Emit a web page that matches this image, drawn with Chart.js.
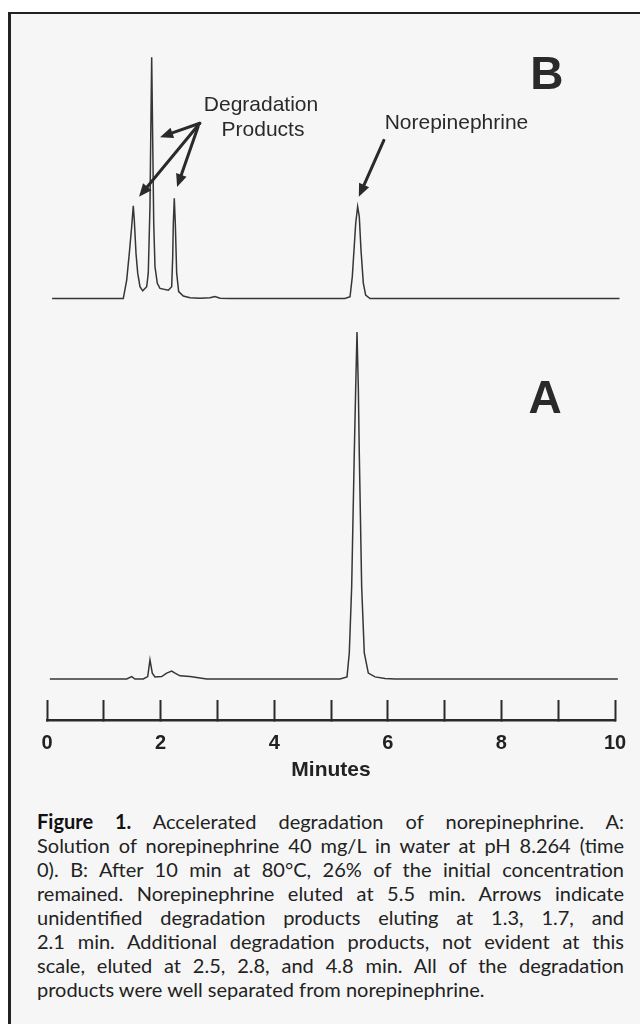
<!DOCTYPE html>
<html>
<head>
<meta charset="utf-8">
<script src="https://cdn.jsdelivr.net/npm/chart.js@4.4.1/dist/chart.umd.min.js"></script>
<style>
  html, body { margin: 0; padding: 0; width: 640px; height: 1024px; overflow: hidden; background: #ffffff; }
  #frame { position: absolute; left: 8px; top: 12px; width: 700px; height: 1100px;
           border-left: 3px solid #222; border-top: 2px solid #222; background: #f6f6f6; }
  #wrap { position: absolute; left: 0; top: 0; width: 640px; height: 790px; }
  #caption { position: absolute; left: 37px; top: 809px; width: 587px;
             font-family: Lato, "Noto Sans", sans-serif; font-size: 20px; line-height: 24px; color: #222; }
  #caption div { white-space: nowrap; text-align: justify; text-align-last: justify; }
  #caption div.last { text-align-last: left; }
  #caption b { color: #111; }
</style>
</head>
<body>
<div id="frame"></div>
<div id="wrap"><canvas id="c"></canvas></div>
<div id="caption">
  <div><b>Figure 1.</b> Accelerated degradation of norepinephrine. A:</div>
  <div>Solution of norepinephrine 40 mg/L in water at pH 8.264 (time</div>
  <div>0). B: After 10 min at 80°C, 26% of the initial concentration</div>
  <div>remained. Norepinephrine eluted at 5.5 min. Arrows indicate</div>
  <div>unidentified degradation products eluting at 1.3, 1.7, and</div>
  <div>2.1 min. Additional degradation products, not evident at this</div>
  <div>scale, eluted at 2.5, 2.8, and 4.8 min. All of the degradation</div>
  <div class="last">products were well separated from norepinephrine.</div>
</div>
<script>
// ---- Data (minutes, detector response; A main peak = 100) ----
const timeA = [0.05, 0.933, 1.403, 1.491, 1.549, 1.695, 1.773, 1.813, 1.854, 1.901, 2.019, 2.107, 2.195, 2.254, 2.342, 2.518, 2.694, 2.812,
               5.158, 5.282, 5.322, 5.364, 5.410, 5.435, 5.458, 5.481, 5.498, 5.540, 5.586, 5.657, 5.775, 5.951, 6.127, 10.05];
const respA = [0, 0, 0, 0.7, 0, 0, 0.7, 5.5, 1.7, 0.6, 0.7, 1.7, 2.3, 1.7, 0.9, 0.7, 0.3, 0,
               0, 0.6, 7.5, 26.5, 65.1, 84.1, 100, 84.1, 65.1, 26.5, 7.5, 1.7, 0.6, 0.15, 0, 0];

const timeB = [0.09, 0.933, 1.343, 1.403, 1.449, 1.491, 1.519, 1.537, 1.567, 1.597, 1.637, 1.685, 1.755, 1.783, 1.813, 1.826, 1.843,
               1.861, 1.879, 1.901, 1.942, 1.989, 2.136, 2.195, 2.213, 2.224, 2.241, 2.259, 2.283, 2.318, 2.400, 2.518, 2.694,
               2.870, 2.958, 3.046, 3.222, 5.246, 5.335, 5.375, 5.405, 5.435, 5.469, 5.498, 5.528, 5.569, 5.610, 5.687, 10.08, 10.08];
const respB = [0, 0, 0, 5.3, 13.0, 20.7, 26.7, 22.6, 13.0, 7.3, 3.4, 2.2, 3.4, 7.3, 26.5, 45.7, 69.5,
               45.7, 21.7, 9.2, 4.4, 2.9, 2.4, 3.4, 12.0, 21.7, 28.9, 21.7, 7.3, 2.0, 0.7, 0.2, 0.1,
               0.2, 0.6, 0.1, 0, 0, 0.5, 6.3, 14.0, 21.7, 26.5, 23.6, 14.0, 4.4, 1.0, 0, 0, 1.7];

const tickLabels = ['0', '', '2', '', '4', '', '6', '', '8', '', '10'];
const axisTitle = 'Minutes';
const panelNames = ['B', 'A'];
const calloutTexts = ['Degradation', 'Products', 'Norepinephrine'];

// ---- Annotation anchors (data units) ----
const panelPos = [{t: 8.80, r: 64.1, axis: 'yB'}, {t: 8.77, r: 80.4, axis: 'yA'}];
const calloutPos = [{t: 3.768, r: 55.8}, {t: 3.803, r: 48.6}, {t: 7.209, r: 50.5}];
const arrowList = [
  {from: {t: 2.69, r: 50.5}, to: {t: 1.99, r: 46.5}},
  {from: {t: 2.69, r: 50.5}, to: {t: 1.62, r: 29.3}},
  {from: {t: 2.66, r: 49.5}, to: {t: 2.29, r: 32.1}},
  {from: {t: 5.93, r: 45.6}, to: {t: 5.49, r: 29.3}}
];

const toPoints = (ts, rs) => ts.map((t, i) => ({x: t, y: rs[i]}));
const INK = '#2a2a2a';
const FONT = '"Liberation Sans", Arial, sans-serif';

function drawArrow(ctx, x1, y1, x2, y2) {
  const ang = Math.atan2(y2 - y1, x2 - x1);
  const len = 13, hw = 5.5;
  const bx = x2 - len * Math.cos(ang), by = y2 - len * Math.sin(ang);
  ctx.beginPath();
  ctx.moveTo(x1, y1);
  ctx.lineTo(bx, by);
  ctx.stroke();
  ctx.beginPath();
  ctx.moveTo(x2, y2);
  ctx.lineTo(bx + hw * Math.sin(ang), by - hw * Math.cos(ang));
  ctx.lineTo(bx - hw * Math.sin(ang), by + hw * Math.cos(ang));
  ctx.closePath();
  ctx.fill();
}

const annotate = {
  id: 'annotate',
  afterDatasetsDraw(chart) {
    const {ctx, scales} = chart;
    const x = scales.x;
    ctx.save();
    ctx.fillStyle = INK;
    ctx.strokeStyle = INK;
    ctx.textAlign = 'center';
    ctx.textBaseline = 'middle';
    ctx.font = 'bold 46px ' + FONT;
    panelNames.forEach((n, i) => {
      const p = panelPos[i];
      ctx.fillText(n, x.getPixelForValue(p.t), scales[p.axis].getPixelForValue(p.r));
    });
    ctx.font = '21px ' + FONT;
    calloutTexts.forEach((s, i) => {
      const p = calloutPos[i];
      ctx.fillText(s, x.getPixelForValue(p.t), scales.yB.getPixelForValue(p.r));
    });
    ctx.lineWidth = 3;
    ctx.lineCap = 'round';
    arrowList.forEach(a => {
      drawArrow(ctx,
        x.getPixelForValue(a.from.t), scales.yB.getPixelForValue(a.from.r),
        x.getPixelForValue(a.to.t), scales.yB.getPixelForValue(a.to.r));
    });
    ctx.restore();
  }
};

new Chart(document.getElementById('c'), {
  type: 'line',
  data: {
    datasets: [
      {label: 'B', data: toPoints(timeB, respB), yAxisID: 'yB', borderColor: '#363636', borderWidth: 1.5,
       pointRadius: 0, tension: 0, fill: false, clip: false},
      {label: 'A', data: toPoints(timeA, respA), yAxisID: 'yA', borderColor: '#363636', borderWidth: 1.5,
       pointRadius: 0, tension: 0, fill: false, clip: false}
    ]
  },
  options: {
    responsive: true,
    maintainAspectRatio: false,
    animation: false,
    layout: {padding: {left: 47, right: 25, top: 20, bottom: 7.4}},
    plugins: {legend: {display: false}, tooltip: {enabled: false}},
    scales: {
      x: {
        type: 'linear', min: 0, max: 10, position: 'bottom',
        afterFit: (s) => { s.paddingLeft = 0; s.paddingRight = 0; },
        border: {display: true, color: INK, width: 2.5},
        grid: {display: true, drawOnChartArea: false, drawTicks: true, tickLength: -20, tickColor: INK, tickWidth: 2, color: INK},
        ticks: {stepSize: 1, autoSkip: false, maxRotation: 0, padding: 31, color: '#222',
                font: {family: FONT, size: 20, weight: 'bold'},
                callback: (v, i) => tickLabels[i]},
        title: {display: true, text: axisTitle, color: '#222', font: {family: FONT, size: 21, weight: 'bold'},
                padding: {top: -28.6, bottom: 0}}
      },
      yA: {type: 'linear', display: false, position: 'left', stack: 'panels', stackWeight: 410, min: -11.82, max: 106.34},
      yB: {type: 'linear', display: false, position: 'left', stack: 'panels', stackWeight: 290, min: -3.31, max: 80.26}
    }
  },
  plugins: [annotate]
});
</script>
</body>
</html>
